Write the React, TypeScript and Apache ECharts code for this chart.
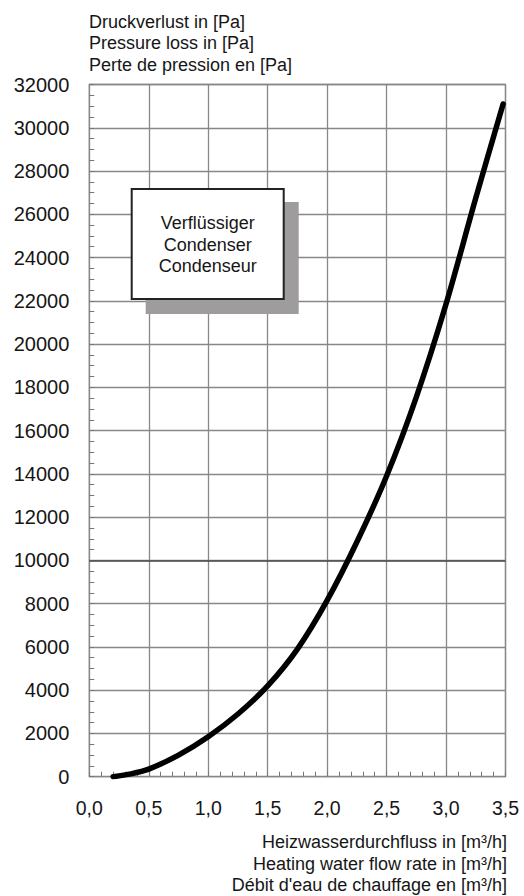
import React, { useEffect, useRef } from "react";
import * as echarts from "echarts";

const flowRates = [0.2, 0.35, 0.5, 0.75, 1.0, 1.25, 1.5, 1.75, 2.0, 2.25, 2.5, 2.75, 3.0, 3.25, 3.48];
const pressureLoss = [0, 130, 350, 1000, 1850, 2900, 4200, 5900, 8150, 10850, 13900, 17550, 21850, 26750, 31100];

const yTitleLines = ["Druckverlust in [Pa]", "Pressure loss in [Pa]", "Perte de pression en [Pa]"];
const xTitleLines = ["Heizwasserdurchfluss in [m³/h]", "Heating water flow rate in [m³/h]", "Débit d'eau de chauffage en [m³/h]"];
const boxLines = ["Verflüssiger", "Condenser", "Condenseur"];

const FONT = "'Liberation Sans', Arial, sans-serif";
const TEXT = "#161616";
const GRIDC = "#888888";

export default function App() {
  const ref = useRef<HTMLDivElement>(null);
  useEffect(() => {
    if (!ref.current) return;
    const chart = echarts.init(ref.current, null, { renderer: "svg" });
    const data = flowRates.map((x, i) => [x, pressureLoss[i]]);
    const graphics: any[] = [];
    yTitleLines.forEach((t, i) => {
      graphics.push({
        type: "text",
        style: { text: t, x: 89, y: 22 + i * 21.3, font: `18px ${FONT}`, fill: TEXT, textAlign: "left", textVerticalAlign: "middle" },
      });
    });
    xTitleLines.forEach((t, i) => {
      graphics.push({
        type: "text",
        style: { text: t, x: 507, y: 842 + i * 21.6, font: `18px ${FONT}`, fill: TEXT, textAlign: "right", textVerticalAlign: "middle" },
      });
    });
    graphics.push({ type: "rect", shape: { x: 145.7, y: 202, width: 153, height: 112 }, style: { fill: "#9e9c9c" }, z: 10 });
    graphics.push({ type: "rect", shape: { x: 131.7, y: 189, width: 152, height: 110 }, style: { fill: "#ffffff", stroke: "#222", lineWidth: 2 }, z: 11 });
    boxLines.forEach((t, i) => {
      graphics.push({
        type: "text", z: 12,
        style: { text: t, x: 207.7, y: 223 + i * 21.7, font: `18px ${FONT}`, fill: TEXT, textAlign: "center", textVerticalAlign: "middle" },
      });
    });

    chart.setOption({
      animation: false,
      backgroundColor: "#ffffff",
      textStyle: { fontFamily: FONT },
      grid: { left: 89.3, right: 18.5, top: 84.5, bottom: 119.3, show: true, borderColor: GRIDC, borderWidth: 1.3, backgroundColor: "transparent" },
      xAxis: {
        type: "value", min: 0, max: 3.5, interval: 0.5,
        axisLine: { show: false },
        axisTick: { show: true, inside: true, length: 5, lineStyle: { color: "#777" } },
        minorTick: { show: true, splitNumber: 5, length: 5, lineStyle: { color: "#777", width: 1 } },
        splitLine: { show: true, lineStyle: { color: GRIDC, width: 1.3 } },
        axisLabel: {
          margin: 21, fontSize: 19.5, color: TEXT, fontFamily: FONT, showMinLabel: true, showMaxLabel: true,
          formatter: (v: number) => v.toFixed(1).replace(".", ","),
        },
      },
      yAxis: {
        type: "value", min: 0, max: 32000, interval: 2000,
        axisLine: { show: false },
        axisTick: { show: true, inside: true, length: 5, lineStyle: { color: "#777" } },
        minorTick: { show: true, splitNumber: 4, length: 5, lineStyle: { color: "#777", width: 1 } },
        splitLine: { show: true, lineStyle: { color: GRIDC, width: 1.3 } },
        axisLabel: {
          margin: 20, fontSize: 20, color: TEXT, fontFamily: FONT, showMinLabel: true, showMaxLabel: true,
          formatter: (v: number) => String(Math.round(v)),
        },
      },
      graphic: graphics,
      series: [
        {
          type: "line", data, smooth: 0.3, symbol: "none",
          lineStyle: { color: "#000", width: 5.5, cap: "round" },
          markLine: {
            silent: true, symbol: "none", label: { show: false },
            lineStyle: { color: "#4a4a4a", width: 1.6, type: "solid" },
            data: [{ yAxis: 10000 }],
          },
          z: 5,
        },
      ],
    });
    return () => chart.dispose();
  }, []);
  return <div ref={ref} style={{ position: "fixed", left: 0, top: 0, width: 524, height: 896 }} />;
}
